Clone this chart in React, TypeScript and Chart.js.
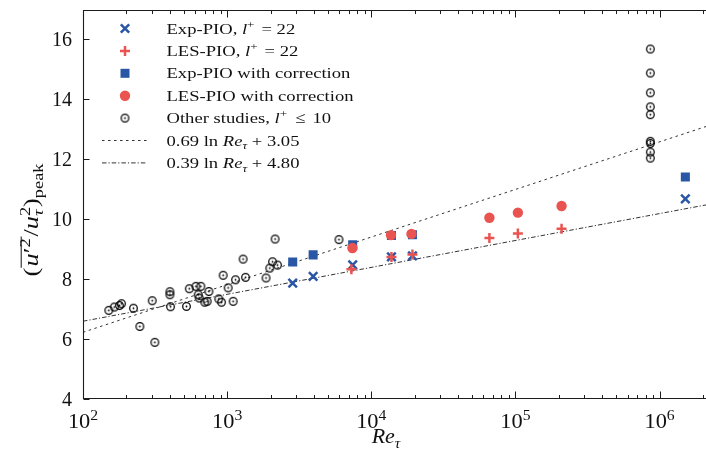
import React, { useEffect, useRef } from 'react';
import { Chart, registerables } from 'chart.js';

Chart.register(...registerables);

// ---------- data ----------
const expPioRe = [2850, 3950, 7430, 13800, 19300, 1510000];
const expPioVal = [7.87, 8.09, 8.48, 8.74, 8.78, 10.68];

const lesPioRe = [7280, 13800, 19300, 66000, 104000, 209000];
const lesPioVal = [8.33, 8.74, 8.82, 9.37, 9.52, 9.68];

const expCorrRe = [2850, 3950, 7430, 13800, 19300, 1510000];
const expCorrVal = [8.57, 8.81, 9.15, 9.46, 9.48, 11.41];

const lesCorrRe = [7400, 13700, 19000, 66000, 104000, 209000];
const lesCorrVal = [9.04, 9.47, 9.51, 10.05, 10.22, 10.44];

const otherRe = [
  151, 165, 179, 185, 224, 248, 302, 315, 401, 401, 405, 546, 522, 607, 657, 630, 640,
  747, 700, 727, 875, 914, 938, 1016, 1101, 1143, 1290, 1341, 1862, 1977, 2064, 2152,
  2236, 5970, 863000, 863000, 863000, 863000, 863000, 863000, 863000, 863000, 863000,
];
const otherVal = [
  6.96, 7.07, 7.12, 7.18, 7.03, 6.42, 7.28, 5.89, 7.58, 7.48, 7.08, 7.68, 7.09, 7.76, 7.76,
  7.48, 7.37, 7.59, 7.23, 7.26, 7.34, 7.23, 8.13, 7.71, 7.26, 7.98, 8.67, 8.06, 8.04, 8.37,
  8.58, 9.34, 8.47, 9.32, 15.68, 14.88, 14.22, 13.75, 13.49, 12.6, 12.53, 12.24, 12.04,
];

// fit lines: a ln(Re) + b
const fitSlopes = [0.69, 0.39];
const fitIntercepts = [3.05, 4.8];

const X_MIN = 100;
const X_MAX = 2.1e6;
const Y_MIN = 4;
const Y_MAX = 17;
const yTickValues = [4, 6, 8, 10, 12, 14, 16];
const xDecadeExponents = [2, 3, 4, 5, 6];

// ---------- styles ----------
const BLUE = '#2a56a6';
const RED = '#ea5450';
const LINE_GRAY = '#333333';
const AXIS = '#1c1c1c';
const FONT = '"Liberation Serif", "DejaVu Serif", serif';
const DOTTED = [2.5, 3.5];
const DASHDOT = [4.5, 2, 1.2, 2];

type Seg = {
  t: string;
  it?: boolean;
  pos?: 'sup' | 'sub';
  sup2?: string;
  over?: boolean;
  gap?: number;
};

function font(size: number, it?: boolean) {
  return `${it ? 'italic ' : ''}${size}px ${FONT}`;
}

function segWidth(ctx: CanvasRenderingContext2D, s: Seg, size: number) {
  const small = size * 0.7;
  if (s.gap) return s.gap;
  if (s.pos) {
    ctx.font = font(small, s.it);
    let w = ctx.measureText(s.t).width;
    if (s.sup2) {
      ctx.font = font(small, false);
      w = Math.max(w, ctx.measureText(s.sup2).width);
    }
    return w;
  }
  ctx.font = font(size, s.it);
  return ctx.measureText(s.t).width;
}

function drawRich(
  ctx: CanvasRenderingContext2D,
  segs: Seg[],
  x: number,
  y: number,
  size: number,
  align: 'left' | 'center',
  sx = 1
) {
  ctx.textBaseline = 'alphabetic';
  ctx.textAlign = 'left';
  const widths = segs.map((s) => segWidth(ctx, s, size));
  const total = widths.reduce((a, b) => a + b, 0);
  const start = align === 'center' ? x - (total * sx) / 2 : x;
  const small = size * 0.7;
  ctx.save();
  ctx.translate(start, y);
  ctx.scale(sx, 1);
  let cx = 0;
  let oMin = Infinity;
  let oMax = -Infinity;
  segs.forEach((s, i) => {
    if (s.over) {
      oMin = Math.min(oMin, cx);
      oMax = Math.max(oMax, cx + widths[i]);
    }
    if (s.gap) {
      cx += s.gap;
      return;
    }
    if (s.pos === 'sup') {
      ctx.font = font(small, s.it);
      ctx.fillText(s.t, cx, -size * 0.38);
    } else if (s.pos === 'sub') {
      ctx.font = font(small, s.it);
      ctx.fillText(s.t, cx, size * 0.25);
      if (s.sup2) {
        ctx.font = font(small, false);
        ctx.fillText(s.sup2, cx, -size * 0.38);
      }
    } else {
      ctx.font = font(size, s.it);
      ctx.fillText(s.t, cx, 0);
    }
    cx += widths[i];
  });
  if (oMax > oMin) {
    ctx.strokeStyle = ctx.fillStyle as string;
    ctx.lineWidth = 1;
    ctx.beginPath();
    ctx.moveTo(oMin, -size * 0.8);
    ctx.lineTo(oMax, -size * 0.8);
    ctx.stroke();
  }
  ctx.restore();
}

const legendRows: { segs: Seg[]; kind: string }[] = [
  { kind: 'x', segs: [{ t: 'Exp-PIO, ' }, { t: 'l', it: true }, { t: '+', pos: 'sup' }, { gap: 2, t: '' }, { t: ' = 22' }] },
  { kind: 'plus', segs: [{ t: 'LES-PIO, ' }, { t: 'l', it: true }, { t: '+', pos: 'sup' }, { gap: 2, t: '' }, { t: ' = 22' }] },
  { kind: 'square', segs: [{ t: 'Exp-PIO with correction' }] },
  { kind: 'circle', segs: [{ t: 'LES-PIO with correction' }] },
  { kind: 'other', segs: [{ t: 'Other studies, ' }, { t: 'l', it: true }, { t: '+', pos: 'sup' }, { gap: 3, t: '' }, { t: ' ≤ ' }, { gap: 2, t: '' }, { t: '10' }] },
  { kind: 'dotted', segs: [{ t: '0.69 ln ' }, { t: 'Re', it: true }, { t: 'τ', it: true, pos: 'sub' }, { t: ' + 3.05' }] },
  { kind: 'dashdot', segs: [{ t: '0.39 ln ' }, { t: 'Re', it: true }, { t: 'τ', it: true, pos: 'sub' }, { t: ' + 4.80' }] },
];

function makeOtherMarker() {
  const c = document.createElement('canvas');
  c.width = 11;
  c.height = 11;
  const g = c.getContext('2d')!;
  g.strokeStyle = '#000';
  g.lineWidth = 1.25;
  g.beginPath();
  g.arc(5.5, 5.5, 3.8, 0, Math.PI * 2);
  g.stroke();
  g.fillStyle = '#000';
  g.beginPath();
  g.arc(5.5, 5.5, 0.9, 0, Math.PI * 2);
  g.fill();
  return c;
}

export default function App() {
  const ref = useRef<HTMLCanvasElement>(null);

  useEffect(() => {
    const canvas = ref.current!;
    const otherMarker = makeOtherMarker();

    const pts = (xs: number[], ys: number[]) => xs.map((x, i) => ({ x, y: ys[i] }));
    const fitPts = (k: number) =>
      [X_MIN, X_MAX].map((x) => ({ x, y: fitSlopes[k] * Math.log(x) + fitIntercepts[k] }));

    const framePlugin = {
      id: 'frame',
      afterDraw(chart: any) {
        const { ctx, chartArea: a } = chart;
        const xs = chart.scales.x;
        const ys = chart.scales.y;
        ctx.save();
        ctx.strokeStyle = AXIS;
        ctx.fillStyle = '#111';
        ctx.lineWidth = 1.1;
        const L = Math.round(a.left) + 0.5;
        const T = Math.round(a.top) + 0.5;
        const B = Math.round(a.bottom) - 0.5;
        const R = a.right;
        ctx.beginPath();
        ctx.moveTo(R, T);
        ctx.lineTo(L, T);
        ctx.lineTo(L, B);
        ctx.lineTo(R, B);
        ctx.stroke();

        // y ticks + labels
        ctx.lineWidth = 1;
        yTickValues.forEach((v) => {
          const py = Math.round(ys.getPixelForValue(v)) + 0.5;
          ctx.beginPath();
          ctx.moveTo(L, py);
          ctx.lineTo(L + 6, py);
          ctx.stroke();
          ctx.font = font(20);
          ctx.textAlign = 'right';
          ctx.textBaseline = 'middle';
          ctx.fillText(String(v), 72, py + 1);
        });

        // x ticks (bottom & top), major + minor
        xDecadeExponents.forEach((e) => {
          for (let m = 1; m <= 9; m++) {
            const v = m * Math.pow(10, e);
            if (v < X_MIN || v > X_MAX) continue;
            const px = Math.round(xs.getPixelForValue(v)) + 0.5;
            const len = m === 1 ? 7 : 3.5;
            ctx.beginPath();
            ctx.moveTo(px, B);
            ctx.lineTo(px, B - len);
            ctx.moveTo(px, T);
            ctx.lineTo(px, T + len);
            ctx.stroke();
          }
          const px = xs.getPixelForValue(Math.pow(10, e));
          drawRich(ctx, [{ t: '10' }, { t: String(e), pos: 'sup' }], px, 428, 20, 'center', 1.12);
        });

        // x title
        drawRich(ctx, [{ t: 'Re', it: true }, { t: 'τ', it: true, pos: 'sub' }], 386, 443, 20, 'center', 1.1);

        // y title (rotated)
        ctx.save();
        ctx.translate(38, 220);
        ctx.rotate(-Math.PI / 2);
        drawRich(
          ctx,
          [
            { t: '(' },
            { t: '', gap: 1, over: true },
            { t: 'u', it: true, over: true },
            { t: '′', over: true },
            { t: '2', pos: 'sup', over: true },
            { t: '', gap: 1.5, over: true },
            { t: '/' },
            { t: 'u', it: true },
            { t: 'τ', it: true, pos: 'sub', sup2: '2' },
            { t: ')' },
            { t: 'peak', pos: 'sub' },
          ],
          0,
          0,
          21,
          'center',
          1.25
        );
        ctx.restore();

        // legend
        const mx = 125;
        const tx = 166.5;
        const row0 = 28.5;
        const dy = 22.4;
        legendRows.forEach((row, i) => {
          const cy = row0 + i * dy;
          ctx.save();
          if (row.kind === 'x') {
            ctx.strokeStyle = BLUE;
            ctx.lineWidth = 2.5;
            const h = 4.2;
            ctx.beginPath();
            ctx.moveTo(mx - h, cy - h);
            ctx.lineTo(mx + h, cy + h);
            ctx.moveTo(mx - h, cy + h);
            ctx.lineTo(mx + h, cy - h);
            ctx.stroke();
          } else if (row.kind === 'plus') {
            ctx.strokeStyle = RED;
            ctx.lineWidth = 2.5;
            const h = 5;
            ctx.beginPath();
            ctx.moveTo(mx - h, cy);
            ctx.lineTo(mx + h, cy);
            ctx.moveTo(mx, cy - h);
            ctx.lineTo(mx, cy + h);
            ctx.stroke();
          } else if (row.kind === 'square') {
            ctx.fillStyle = BLUE;
            ctx.fillRect(mx - 4.5, cy - 4.5, 9, 9);
          } else if (row.kind === 'circle') {
            ctx.fillStyle = RED;
            ctx.beginPath();
            ctx.arc(mx, cy, 5.2, 0, Math.PI * 2);
            ctx.fill();
          } else if (row.kind === 'other') {
            ctx.drawImage(otherMarker, mx - 5.5, cy - 5.5);
          } else {
            ctx.strokeStyle = LINE_GRAY;
            ctx.lineWidth = 1;
            ctx.setLineDash(row.kind === 'dotted' ? DOTTED : DASHDOT);
            ctx.beginPath();
            ctx.moveTo(102, cy);
            ctx.lineTo(147, cy);
            ctx.stroke();
          }
          ctx.restore();
          ctx.fillStyle = '#111';
          drawRich(ctx, row.segs, tx, cy + 5, 15.5, 'left', 1.2);
        });
        ctx.restore();
      },
    };

    const chart = new Chart(canvas, {
      type: 'scatter',
      data: {
        datasets: [
          {
            label: 'Exp-PIO, l+ = 22',
            data: pts(expPioRe, expPioVal),
            pointStyle: 'crossRot',
            pointRadius: 6,
            borderColor: BLUE,
            backgroundColor: BLUE,
            pointBorderWidth: 2.5,
            order: 4,
          },
          {
            label: 'LES-PIO, l+ = 22',
            data: pts(lesPioRe, lesPioVal),
            pointStyle: 'cross',
            pointRadius: 5,
            borderColor: RED,
            backgroundColor: RED,
            pointBorderWidth: 2.5,
            order: 3,
          },
          {
            label: 'Exp-PIO with correction',
            data: pts(expCorrRe, expCorrVal),
            pointStyle: 'rect',
            pointRadius: 6.4,
            borderColor: BLUE,
            backgroundColor: BLUE,
            pointBorderWidth: 0,
            order: 2,
          },
          {
            label: 'LES-PIO with correction',
            data: pts(lesCorrRe, lesCorrVal),
            pointStyle: 'circle',
            pointRadius: 5.2,
            borderColor: RED,
            backgroundColor: RED,
            pointBorderWidth: 0,
            order: 1,
          },
          {
            label: 'Other studies',
            data: pts(otherRe, otherVal),
            pointStyle: otherMarker as any,
            pointRadius: 5,
            order: 5,
          },
          {
            label: '0.69 ln Re + 3.05',
            data: fitPts(0),
            showLine: true,
            pointRadius: 0,
            borderColor: LINE_GRAY,
            borderWidth: 1,
            borderDash: DOTTED,
            order: 6,
          },
          {
            label: '0.39 ln Re + 4.80',
            data: fitPts(1),
            showLine: true,
            pointRadius: 0,
            borderColor: LINE_GRAY,
            borderWidth: 1,
            borderDash: DASHDOT,
            order: 7,
          },
        ] as any,
      },
      options: {
        responsive: false,
        animation: false,
        events: [],
        layout: { autoPadding: false, padding: { left: 83, top: 9.5, right: 0, bottom: 57 } },
        plugins: { legend: { display: false }, tooltip: { enabled: false } },
        scales: {
          x: { type: 'logarithmic', min: X_MIN, max: X_MAX, display: false },
          y: { type: 'linear', min: Y_MIN, max: Y_MAX, display: false },
        },
      },
      plugins: [framePlugin],
    });
    return () => chart.destroy();
  }, []);

  return (
    <div style={{ position: 'absolute', left: 0, top: 0, width: 706, height: 456, background: '#fff' }}>
      <canvas ref={ref} width={706} height={456} style={{ width: 706, height: 456, display: 'block' }} />
    </div>
  );
}
